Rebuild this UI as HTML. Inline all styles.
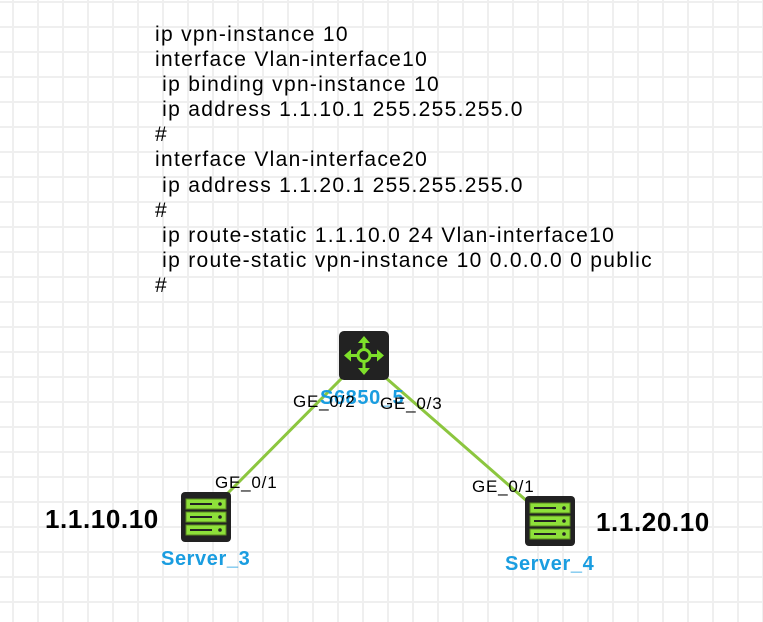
<!DOCTYPE html>
<html><head><style>
body{margin:0;width:763px;height:622px;overflow:hidden;background:#fff;font-family:"Liberation Sans",Arial,sans-serif;}
.bg{position:absolute;left:0;top:0;width:763px;height:622px;
background-image:linear-gradient(to right,#efefef 2px,transparent 2px),linear-gradient(to bottom,#efefef 2px,transparent 2px);
background-size:25px 25px;background-position:12px 1px;}
.t{position:absolute;white-space:pre;font-size:21px;letter-spacing:1.3px;color:#000;}
.lbl{position:absolute;font-size:17px;letter-spacing:0.8px;color:#000;white-space:pre;}
.nm{position:absolute;font-size:20px;letter-spacing:0.6px;font-weight:bold;color:#1a9de0;white-space:pre;}
.ip{position:absolute;font-size:26px;letter-spacing:0.6px;font-weight:bold;color:#000;white-space:pre;}
</style></head><body>
<div class="bg"></div>
<div class="t" style="left:155px;top:22px;line-height:25.1px;">ip vpn-instance 10
interface Vlan-interface10
 ip binding vpn-instance 10
 ip address 1.1.10.1 255.255.255.0
#
interface Vlan-interface20
 ip address 1.1.20.1 255.255.255.0
#
 ip route-static 1.1.10.0 24 Vlan-interface10
 ip route-static vpn-instance 10 0.0.0.0 0 public
#</div>
<svg width="763" height="622" style="position:absolute;left:0;top:0">
<line x1="342" y1="378" x2="225" y2="496" stroke="#8cc63f" stroke-width="3"/>
<line x1="386" y1="378" x2="528" y2="502" stroke="#8cc63f" stroke-width="3"/>
<g transform="translate(339,331)">
<rect width="50" height="49" rx="5" fill="#222"/>
<g stroke="#7ee02a" stroke-width="3" fill="none">
<circle cx="25" cy="24.5" r="6"/>
<line x1="25" y1="8" x2="25" y2="18"/><line x1="25" y1="31" x2="25" y2="41"/>
<line x1="8" y1="24.5" x2="19" y2="24.5"/><line x1="31" y1="24.5" x2="42" y2="24.5"/>
</g>
<g fill="#7ee02a">
<polygon points="25,5 19,12 31,12"/><polygon points="25,44 19,37 31,37"/>
<polygon points="5,24.5 12,18.5 12,30.5"/><polygon points="45,24.5 38,18.5 38,30.5"/>
</g></g>
<g id="srv" transform="translate(181,492)">
<rect width="50" height="50" rx="4" fill="#222"/>
<rect x="5" y="7" width="40" height="10" fill="#8ee03a" stroke="#5a8a20"/>
<rect x="5" y="20" width="40" height="10" fill="#8ee03a" stroke="#5a8a20"/>
<rect x="5" y="33" width="40" height="10" fill="#8ee03a" stroke="#5a8a20"/>
<g fill="#222"><rect x="9" y="11" width="22" height="2"/><rect x="9" y="24" width="22" height="2"/><rect x="9" y="37" width="22" height="2"/>
<circle cx="39" cy="12" r="1.8"/><circle cx="39" cy="25" r="1.8"/><circle cx="39" cy="38" r="1.8"/></g>
</g>
<use href="#srv" transform="translate(344,4)"/>
</svg>
<div class="nm" style="left:320px;top:387px;">S6850_5</div>
<div class="lbl" style="left:293px;top:392px;">GE_0/2</div>
<div class="lbl" style="left:380px;top:394px;">GE_0/3</div>
<div class="lbl" style="left:215px;top:473px;">GE_0/1</div>
<div class="lbl" style="left:472px;top:477px;">GE_0/1</div>
<div class="nm" style="left:161px;top:548px;">Server_3</div>
<div class="nm" style="left:505px;top:553px;">Server_4</div>
<div class="ip" style="left:45px;top:504px;">1.1.10.10</div>
<div class="ip" style="left:596px;top:507px;">1.1.20.10</div>
</body></html>
